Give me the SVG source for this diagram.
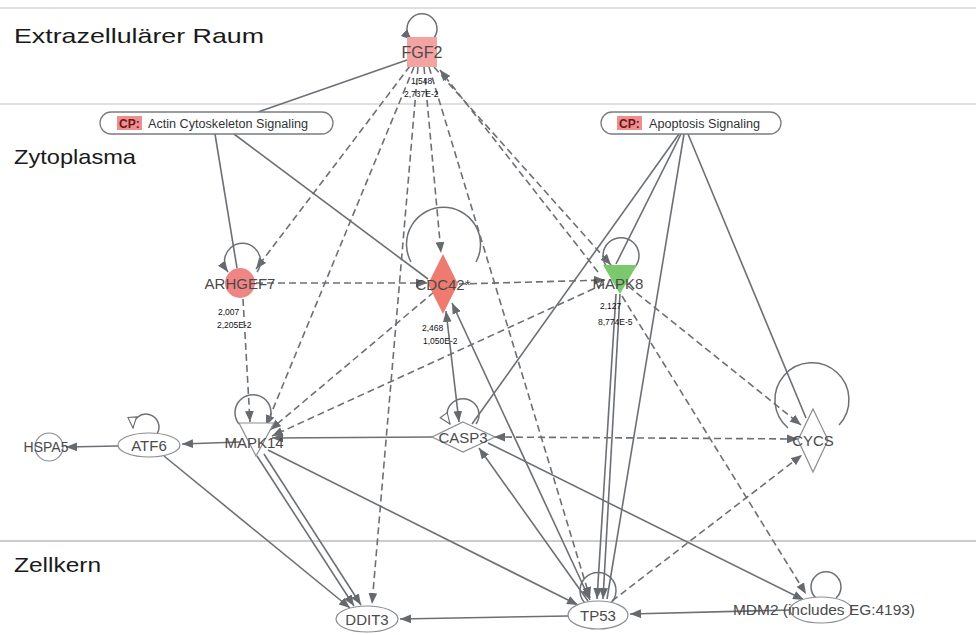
<svg xmlns="http://www.w3.org/2000/svg" width="976" height="635" viewBox="0 0 976 635">
<defs>
<marker id="a" viewBox="0 0 10 8" refX="10" refY="4" markerWidth="11" markerHeight="9" orient="auto-start-reverse" markerUnits="userSpaceOnUse"><path d="M0,0 L10,4 L0,8 z" fill="#66696e"/></marker>
<marker id="w" viewBox="0 0 12 10" refX="11" refY="5" markerWidth="13" markerHeight="11" orient="auto" markerUnits="userSpaceOnUse"><path d="M1,1 L11,5 L1,9 z" fill="#fff" stroke="#66696e" stroke-width="1"/></marker>
<style>
.sep{stroke:#bfbfbf;stroke-width:1.2}
.sec{font-family:"Liberation Sans",Arial,sans-serif;font-size:21px;fill:#1a1a1a}
.e{stroke:#6c7075;stroke-width:1.6;fill:none}
.d{stroke:#6c7075;stroke-width:1.6;fill:none;stroke-dasharray:7 4}
.lp{stroke:#6c7075;stroke-width:1.5;fill:none}
.n{stroke:#8a8d91;stroke-width:1.2;fill:#fff}
.lbl{font-family:"Liberation Sans",Arial,sans-serif;font-size:15px;fill:#4a4a4a;text-anchor:middle}
.num{font-family:"Liberation Sans",Arial,sans-serif;font-size:8.5px;fill:#111}
.cp{fill:#fff;stroke:#7a7d80;stroke-width:1.3}
.cpt{font-family:"Liberation Sans",Arial,sans-serif;font-size:12px;fill:#333}
.cpk{font-family:"Liberation Sans",Arial,sans-serif;font-size:12px;font-weight:bold;fill:#6b1515}
</style>
</defs>
<rect width="976" height="635" fill="#fff"/>
<g id="compartments">
<line class="sep" x1="0" y1="8" x2="976" y2="8"/>
<line class="sep" x1="0" y1="104" x2="976" y2="104"/>
<line class="sep" x1="0" y1="541" x2="976" y2="541" style="stroke:#9a9a9a"/>
<text class="sec" x="14" y="43" textLength="250" lengthAdjust="spacingAndGlyphs">Extrazellulärer Raum</text>
<text class="sec" x="14" y="164" textLength="122" lengthAdjust="spacingAndGlyphs">Zytoplasma</text>
<text class="sec" x="14" y="572" textLength="87" lengthAdjust="spacingAndGlyphs">Zellkern</text>
</g>
<g id="connectors">
<!-- solid -->
<line class="e" x1="407" y1="60" x2="258" y2="112"/>
<line class="e" x1="215" y1="134" x2="237" y2="268"/>
<line class="e" x1="234" y1="134" x2="428" y2="279"/>
<line class="e" x1="679" y1="134" x2="472" y2="424"/>
<line class="e" x1="681" y1="134" x2="616" y2="264"/>
<line class="e" x1="684" y1="134" x2="607" y2="599"/>
<line class="e" x1="688" y1="134" x2="806" y2="418"/>
<line class="e" x1="616" y1="294" x2="597" y2="599" marker-end="url(#a)"/>
<line class="e" x1="620" y1="294" x2="603" y2="599" marker-end="url(#a)"/>
<line class="e" x1="452" y1="303" x2="590" y2="600" marker-start="url(#a)" marker-end="url(#a)"/>
<line class="e" x1="446" y1="311" x2="459" y2="422" marker-start="url(#a)" marker-end="url(#a)"/>
<line class="e" x1="588" y1="601" x2="479" y2="448" marker-end="url(#a)"/>
<line class="e" x1="268" y1="450" x2="578" y2="605" marker-end="url(#a)"/>
<line class="e" x1="488" y1="443" x2="804" y2="600" marker-end="url(#a)"/>
<line class="e" x1="433" y1="437" x2="272" y2="438" marker-end="url(#a)"/>
<line class="e" x1="240" y1="442" x2="182" y2="444" marker-end="url(#a)"/>
<line class="e" x1="118" y1="446" x2="66" y2="447" marker-end="url(#a)"/>
<line class="e" x1="164" y1="456" x2="350" y2="608" marker-end="url(#a)"/>
<line class="e" x1="257" y1="456" x2="354" y2="606" marker-end="url(#a)"/>
<line class="e" x1="264" y1="454" x2="361" y2="605" marker-end="url(#a)"/>
<line class="e" x1="568" y1="616" x2="400" y2="619" marker-end="url(#a)"/>
<line class="e" x1="790" y1="610" x2="630" y2="614" marker-end="url(#a)"/>
<!-- dashed -->
<line class="d" x1="410" y1="66" x2="256" y2="269" marker-end="url(#a)"/>
<line class="d" x1="414" y1="67" x2="266" y2="426" marker-end="url(#a)"/>
<line class="d" x1="418" y1="67" x2="372" y2="604" marker-end="url(#a)"/>
<line class="d" x1="424" y1="67" x2="441" y2="253" marker-end="url(#a)"/>
<line class="d" x1="429" y1="67" x2="590" y2="598" marker-end="url(#a)"/>
<line class="d" x1="434" y1="67" x2="611" y2="265" marker-end="url(#a)"/>
<line class="d" x1="598" y1="272" x2="440" y2="70" marker-end="url(#a)"/>
<line class="d" x1="256" y1="283" x2="427" y2="283" marker-end="url(#a)"/>
<line class="d" x1="459" y1="284" x2="605" y2="280" marker-end="url(#a)"/>
<line class="d" x1="243" y1="299" x2="250" y2="422" marker-end="url(#a)"/>
<line class="d" x1="434" y1="292" x2="270" y2="430" marker-end="url(#a)"/>
<line class="d" x1="604" y1="284" x2="272" y2="436" marker-end="url(#a)"/>
<line class="d" x1="494" y1="437" x2="798" y2="439" marker-start="url(#a)" marker-end="url(#a)"/>
<line class="d" x1="612" y1="601" x2="802" y2="455" marker-end="url(#a)"/>
<line class="d" x1="628" y1="286" x2="801" y2="425" marker-end="url(#a)"/>
<line class="d" x1="622" y1="296" x2="806" y2="594" marker-end="url(#a)"/>
</g>
<g id="FGF2">
<path class="lp" d="M432,40 A15,15 0 1,0 412,40" marker-end="url(#a)"/>
<rect x="407" y="37" width="30" height="30" fill="#f4a3a3"/>
<text class="lbl" x="422" y="58" style="font-size:16px">FGF2</text>
<text class="num" x="411" y="84">1,548</text>
<text class="num" x="404" y="97">2,737E-2</text>
</g>
<g id="cp-actin">
<rect class="cp" x="100" y="112" width="233" height="22" rx="11"/>
<rect x="117" y="116" width="25" height="14" fill="#ee8e8e"/>
<text class="cpk" x="119" y="127.5">CP:</text>
<text class="cpt" x="148" y="127.5" textLength="160" lengthAdjust="spacingAndGlyphs">Actin Cytoskeleton Signaling</text>
</g>
<g id="cp-apoptosis">
<rect class="cp" x="601" y="112" width="180" height="22" rx="11"/>
<rect x="617" y="116" width="25" height="14" fill="#ee8e8e"/>
<text class="cpk" x="619" y="127.5">CP:</text>
<text class="cpt" x="649" y="127.5" textLength="111" lengthAdjust="spacingAndGlyphs">Apoptosis Signaling</text>
</g>
<g id="ARHGEF7">
<path class="lp" d="M257,272 A18,18 0 1,0 228,272" marker-end="url(#a)"/>
<circle cx="240" cy="283" r="15" fill="#ef8585"/>
<text class="lbl" x="240" y="289">ARHGEF7</text>
<text class="num" x="218" y="315">2,007</text>
<text class="num" x="217" y="328">2,205E-2</text>
</g>
<g id="CDC42">
<path class="lp" d="M476,262 A37,37 0 1,0 411,262"/>
<polygon points="443,254 458,284 443,314 428,284" fill="#ee7a70"/>
<text class="lbl" x="443" y="290">CDC42*</text>
<text class="num" x="422" y="331">2,468</text>
<text class="num" x="423" y="344">1,050E-2</text>
</g>
<g id="MAPK8">
<path class="lp" d="M635,267 A18,18 0 1,0 607,267"/>
<polygon points="603,265 637,265 620,294" fill="#7cc96d"/>
<text class="lbl" x="618" y="289">MAPK8</text>
<text class="num" x="600" y="309">2,127</text>
<text class="num" x="598" y="325">8,774E-5</text>
</g>
<g id="MAPK14">
<path class="lp" d="M267,424 A18,18 0 1,0 239,424"/>
<polygon class="n" points="239,423 274,423 256,456"/>
<text class="lbl" x="254" y="448">MAPK14</text>
</g>
<g id="ATF6">
<path class="lp" d="M157,434 A13,13 0 1,0 133,428" marker-end="url(#w)"/>
<ellipse class="n" cx="149" cy="445" rx="31" ry="12"/>
<text class="lbl" x="149" y="451">ATF6</text>
</g>
<g id="HSPA5">
<circle class="n" cx="49" cy="447" r="14"/>
<text class="lbl" x="46" y="452" style="font-size:14px">HSPA5</text>
</g>
<g id="CASP3">
<path class="lp" d="M476,424 A16,16 0 1,0 450,424" marker-end="url(#w)"/>
<polygon class="n" points="463,422 495,437 463,452 432,437"/>
<text class="lbl" x="463" y="443">CASP3</text>
</g>
<g id="CYCS">
<path class="lp" d="M839,425 A37,37 0 1,0 788,428"/>
<polygon class="n" points="813,409 828,440 813,472 798,440"/>
<text class="lbl" x="813" y="446">CYCS</text>
</g>
<g id="DDIT3">
<ellipse class="n" cx="367" cy="619" rx="31" ry="13"/>
<text class="lbl" x="367" y="625">DDIT3</text>
</g>
<g id="TP53">
<path class="lp" d="M610,604 A18,18 0 1,0 586,604"/>
<ellipse class="n" cx="598" cy="615" rx="30" ry="14"/>
<text class="lbl" x="598" y="621">TP53</text>
</g>
<g id="MDM2">
<path class="lp" d="M836,598 A15,15 0 1,0 816,598"/>
<ellipse class="n" cx="821" cy="610" rx="31" ry="13"/>
<text class="lbl" x="824" y="615" textLength="182" lengthAdjust="spacingAndGlyphs">MDM2 (includes EG:4193)</text>
</g>
</svg>
